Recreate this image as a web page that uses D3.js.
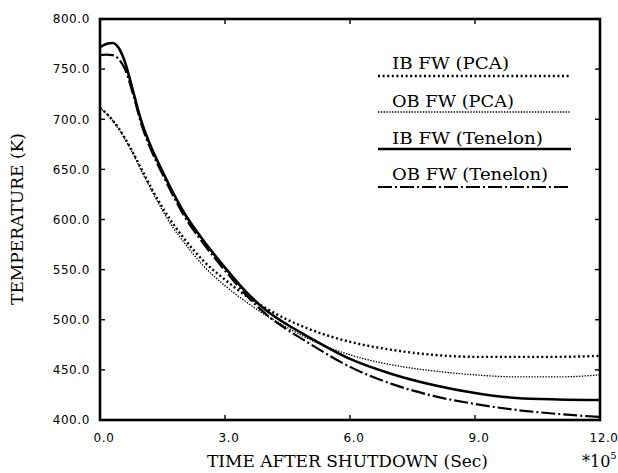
<!DOCTYPE html>
<html>
<head>
<meta charset="utf-8">
<script src="https://cdn.jsdelivr.net/npm/d3@7"></script>
<style>
  body { margin: 0; background: #fff; }
  svg { display: block; background: #fff; }
</style>
</head>
<body>
<svg id="chart" width="618" height="473"></svg>
<script>
// time after shutdown, in units of 1e5 s
const timeValues = [0, 0.15, 0.3, 0.45, 0.6, 0.8, 1.0, 1.25, 1.5, 1.75, 2.0, 2.5, 3.0, 3.5, 4.0, 4.5, 5.0, 6, 7, 8, 9, 10, 11, 12];

// temperatures (K)
const ibPca = [711, 706, 699, 691, 681, 666, 650, 630, 612, 596, 582, 558, 540, 524, 511, 500, 491, 478, 470, 465, 463, 463, 463, 464];
const obPca = [711, 706, 699, 690, 680, 665, 648, 628, 609, 592, 578, 553, 534, 518, 504, 492, 481, 465, 455, 449, 445, 443, 443, 445];
const ibTenelon = [772, 775, 776, 771, 757, 727, 697, 670, 648, 627, 608, 578, 552, 528, 509, 495, 483, 461, 446, 435, 427, 422, 420.5, 420];
const obTenelon = [764, 764.5, 764, 760, 750, 724, 694, 667, 645, 624, 605, 575, 549, 525, 505, 490, 477, 453, 436, 424, 416, 410, 406, 403];

const seriesNames = ['IB FW (PCA)', 'OB FW (PCA)', 'IB FW (Tenelon)', 'OB FW (Tenelon)'];
const xTicks = [0, 3, 6, 9, 12];
const yTicks = [400, 450, 500, 550, 600, 650, 700, 750, 800];

// line looks, same order as seriesNames
const lineStyles = [
  { width: 2.4, dash: '2,2.6' },
  { width: 1.3, dash: '1.4,1.4' },
  { width: 2.6, dash: null },
  { width: 2.2, dash: '14,3,2,3' },
];

const series = [ibPca, obPca, ibTenelon, obTenelon].map((vals, i) => ({
  name: seriesNames[i],
  style: lineStyles[i],
  points: vals.map((v, j) => ({ t: timeValues[j], temp: v })),
}));

const svg = d3.select('#chart');
const plot = { left: 100, right: 600, top: 19, bottom: 420 };

const x = d3.scaleLinear().domain([0, 12]).range([plot.left, plot.right]);
const y = d3.scaleLinear().domain([400, 800]).range([plot.bottom, plot.top]);

const line = d3.line()
  .x(d => x(d.t))
  .y(d => y(d.temp))
  .curve(d3.curveMonotoneX);

// curves
svg.append('g')
  .selectAll('path')
  .data(series)
  .join('path')
  .attr('d', d => line(d.points))
  .attr('fill', 'none')
  .attr('stroke', '#000')
  .attr('stroke-width', d => d.style.width)
  .attr('stroke-dasharray', d => d.style.dash);

// ticks pointing inward on all four sides
const tickLen = 5;
const ticks = svg.append('g').attr('stroke', '#000').attr('stroke-width', 1.4);

ticks.selectAll('.yl')
  .data(yTicks.slice(1, -1))
  .join('line')
  .attr('class', 'yl')
  .attr('x1', plot.left).attr('x2', plot.left + tickLen)
  .attr('y1', d => y(d)).attr('y2', d => y(d));

ticks.selectAll('.yr')
  .data(yTicks.slice(1, -1))
  .join('line')
  .attr('class', 'yr')
  .attr('x1', plot.right).attr('x2', plot.right - tickLen)
  .attr('y1', d => y(d)).attr('y2', d => y(d));

ticks.selectAll('.xb')
  .data(xTicks.slice(1, -1))
  .join('line')
  .attr('class', 'xb')
  .attr('x1', d => x(d)).attr('x2', d => x(d))
  .attr('y1', plot.bottom).attr('y2', plot.bottom - tickLen);

ticks.selectAll('.xt')
  .data(xTicks.slice(1, -1))
  .join('line')
  .attr('class', 'xt')
  .attr('x1', d => x(d)).attr('x2', d => x(d))
  .attr('y1', plot.top).attr('y2', plot.top + tickLen);

// frame
svg.append('rect')
  .attr('x', plot.left).attr('y', plot.top)
  .attr('width', plot.right - plot.left).attr('height', plot.bottom - plot.top)
  .attr('fill', 'none')
  .attr('stroke', '#000')
  .attr('stroke-width', 2.6);

// tick labels
svg.append('g')
  .selectAll('text')
  .data(yTicks)
  .join('text')
  .attr('x', plot.left - 10)
  .attr('y', d => y(d))
  .attr('dy', '0.36em')
  .attr('text-anchor', 'end')
  .attr('font-family', 'DejaVu Sans')
  .attr('font-size', 12)
  .attr('letter-spacing', 0.6)
  .text(d => d3.format('.1f')(d));

svg.append('g')
  .selectAll('text')
  .data(xTicks)
  .join('text')
  .attr('x', d => x(d) + 4)
  .attr('y', 442)
  .attr('text-anchor', 'middle')
  .attr('font-family', 'DejaVu Sans')
  .attr('font-size', 12)
  .attr('letter-spacing', 0.6)
  .text(d => d3.format('.1f')(d));

// axis titles
const serif = 'DejaVu Serif';

svg.append('text')
  .attr('x', 207).attr('y', 467)
  .attr('font-family', serif)
  .attr('font-size', 16)
  .attr('textLength', 281)
  .attr('lengthAdjust', 'spacingAndGlyphs')
  .text('TIME AFTER SHUTDOWN (Sec)');

svg.append('text')
  .attr('transform', 'translate(23,305) rotate(-90)')
  .attr('font-family', serif)
  .attr('font-size', 16)
  .attr('textLength', 172)
  .attr('lengthAdjust', 'spacingAndGlyphs')
  .text('TEMPERATURE (K)');

const mult = svg.append('text')
  .attr('x', 582).attr('y', 467)
  .attr('font-family', serif)
  .attr('font-size', 16);
mult.append('tspan').text('*10');
mult.append('tspan')
  .attr('dy', -8)
  .attr('font-size', 10)
  .text('5');

// legend: label above a sample of each line
const legendText = [
  { y: 69, len: 117 },
  { y: 107, len: 122 },
  { y: 144, len: 151 },
  { y: 180, len: 156 },
];
const legendLineY = [76, 112, 149, 187];

const legend = svg.append('g');

legend.selectAll('line')
  .data(series)
  .join('line')
  .attr('x1', 378).attr('x2', 571)
  .attr('y1', (d, i) => legendLineY[i])
  .attr('y2', (d, i) => legendLineY[i])
  .attr('stroke', '#000')
  .attr('stroke-width', d => d.style.width)
  .attr('stroke-dasharray', d => d.style.dash);

legend.selectAll('text')
  .data(series)
  .join('text')
  .attr('x', 392)
  .attr('y', (d, i) => legendText[i].y)
  .attr('font-family', serif)
  .attr('font-size', 16)
  .attr('textLength', (d, i) => legendText[i].len)
  .attr('lengthAdjust', 'spacingAndGlyphs')
  .text(d => d.name);
</script>
</body>
</html>
